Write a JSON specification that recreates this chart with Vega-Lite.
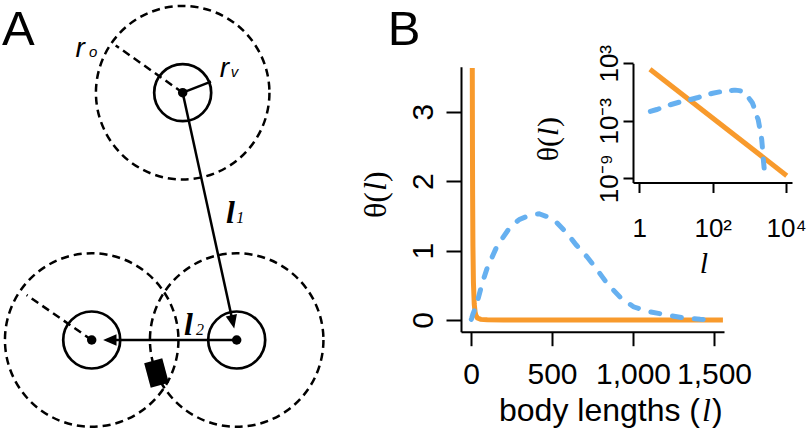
{
  "$schema": "https://vega.github.io/schema/vega-lite/v6.json",
  "width": 810,
  "height": 436,
  "padding": 0,
  "autosize": {"type": "none"},
  "background": "white",
  "config": {
    "view": {"stroke": null},
    "font": "Liberation Sans",
    "axis": {
      "grid": false,
      "domainColor": "black",
      "tickColor": "black",
      "labelColor": "black",
      "domainWidth": 2,
      "tickWidth": 2,
      "labelFont": "Liberation Sans",
      "labelOverlap": false,
      "labelFlush": false,
      "labelBound": false,
      "title": null
    }
  },
  "datasets": {
    "agents": [
      {"agent": "top", "x": 6.285, "y": 11.811},
      {"agent": "left", "x": 3.155, "y": 3.303},
      {"agent": "right", "x": 8.143, "y": 3.303}
    ],
    "dashedSegments": [
      {"seg": "r_o top", "x": 6.285, "y": 11.811, "x2": 3.98, "y2": 13.438},
      {"seg": "r_o left", "x": 3.155, "y": 3.303, "x2": 0.918, "y2": 4.851}
    ],
    "solidSegments": [
      {"seg": "r_v", "x": 6.285, "y": 11.811, "x2": 7.259, "y2": 12.189},
      {"seg": "l1", "x": 6.285, "y": 11.811, "x2": 8.008, "y2": 3.926},
      {"seg": "l2", "x": 8.143, "y": 3.303, "x2": 3.778, "y2": 3.303}
    ],
    "heads": [
      {"arrow": "l1", "x": 8.008, "y": 3.926},
      {"arrow": "l2", "x": 3.778, "y": 3.303}
    ],
    "obstacle": [{"x": 5.384, "y": 2.167}],
    "panelLetters": [
      {"text": "A", "x": 0.633, "y": 13.452},
      {"text": "B", "x": 13.899, "y": 13.452}
    ],
    "radiusLabels": [
      {"text": "r", "x": 2.6, "y": 13.039},
      {"text": "r", "x": 7.56, "y": 12.351}
    ],
    "radiusSubs": [
      {"text": "o", "x": 3.06, "y": 13.039},
      {"text": "v", "x": 7.94, "y": 12.351}
    ],
    "lengthLabels": [
      {"text": "l", "x": 7.775, "y": 7.328},
      {"text": "l", "x": 6.33, "y": 3.475}
    ],
    "lengthSubs": [
      {"text": "1", "x": 8.13, "y": 7.328},
      {"text": "2", "x": 6.74, "y": 3.475}
    ],
    "orange": [
      {"l": 1.95, "theta": 237},
      {"l": 7.93, "theta": 3.63},
      {"l": 9, "theta": 2.49},
      {"l": 10, "theta": 1.815},
      {"l": 12, "theta": 1.054},
      {"l": 15, "theta": 0.542},
      {"l": 20, "theta": 0.23},
      {"l": 25, "theta": 0.118},
      {"l": 30, "theta": 0.0688},
      {"l": 40, "theta": 0.0292},
      {"l": 60, "theta": 0.0087},
      {"l": 100, "theta": 0.0019},
      {"l": 200, "theta": 0.00024},
      {"l": 500, "theta": 0.0000157},
      {"l": 1000, "theta": 0.00000199},
      {"l": 1555, "theta": 0.000000535},
      {"l": 10400, "theta": 0.00000000185}
    ],
    "blue": [
      {"l": 2, "theta": 0.0095},
      {"l": 3, "theta": 0.015},
      {"l": 5, "theta": 0.03},
      {"l": 7, "theta": 0.047},
      {"l": 12, "theta": 0.085},
      {"l": 24, "theta": 0.16},
      {"l": 40, "theta": 0.27},
      {"l": 68, "theta": 0.52},
      {"l": 100, "theta": 0.75},
      {"l": 160, "theta": 1.06},
      {"l": 242, "theta": 1.34},
      {"l": 300, "theta": 1.45},
      {"l": 376, "theta": 1.52},
      {"l": 420, "theta": 1.53},
      {"l": 468, "theta": 1.49},
      {"l": 530, "theta": 1.4},
      {"l": 592, "theta": 1.25},
      {"l": 650, "theta": 1.08},
      {"l": 716, "theta": 0.91},
      {"l": 780, "theta": 0.72},
      {"l": 839, "theta": 0.53},
      {"l": 920, "theta": 0.33},
      {"l": 1003, "theta": 0.19},
      {"l": 1100, "theta": 0.12},
      {"l": 1209, "theta": 0.072},
      {"l": 1300, "theta": 0.035},
      {"l": 1415, "theta": 0.01},
      {"l": 1510, "theta": 0.0045},
      {"l": 1600, "theta": 0.0028},
      {"l": 1740, "theta": 0.0013},
      {"l": 1900, "theta": 0.0002},
      {"l": 2050, "theta": 0.00004},
      {"l": 2163, "theta": 0.000011},
      {"l": 2300, "theta": 0.0000008},
      {"l": 2400, "theta": 0.00000009},
      {"l": 2530, "theta": 0.00000001},
      {"l": 2660, "theta": 0.0000000025}
    ],
    "mainXTitle": [{"l": 1413.6, "theta": -1.4547}],
    "mainYTitle": [{"l": -524.7, "theta": 1.8436}],
    "insetXTitle": [{"l": 57.9, "theta": 1.29e-19}],
    "insetYTitle": [{"l": 0.0061, "theta": 0.0000203}]
  },
  "layer": [
    {
      "encoding": {
        "x": {"field": "x", "type": "quantitative", "scale": {"domain": [0, 15], "range": [0, 436], "nice": false, "zero": false}, "axis": null},
        "y": {"field": "y", "type": "quantitative", "scale": {"domain": [0, 15], "range": [436, 0], "nice": false, "zero": false}, "axis": null}
      },
      "layer": [
        {"data": {"name": "agents"}, "mark": {"type": "point", "shape": "circle", "size": 30102, "filled": false, "color": "black", "strokeWidth": 2.5, "strokeDash": [8, 5], "opacity": 1}},
        {"data": {"name": "agents"}, "mark": {"type": "point", "shape": "circle", "size": 3249, "filled": false, "color": "black", "strokeWidth": 2.7, "opacity": 1}},
        {"data": {"name": "agents"}, "mark": {"type": "point", "shape": "circle", "size": 90, "filled": true, "color": "black", "opacity": 1}},
        {"data": {"name": "dashedSegments"}, "mark": {"type": "rule", "color": "black", "strokeWidth": 2.5, "strokeDash": [8, 5]}, "encoding": {"x2": {"field": "x2"}, "y2": {"field": "y2"}}},
        {"data": {"name": "solidSegments"}, "mark": {"type": "rule", "color": "black", "strokeWidth": 2.5}, "encoding": {"x2": {"field": "x2"}, "y2": {"field": "y2"}}},
        {"data": {"name": "heads"}, "transform": [{"filter": "datum.arrow == 'l1'"}], "mark": {"type": "point", "shape": "M1,0L-1,-0.85L-1,0.85Z", "size": 180, "filled": true, "color": "black", "opacity": 1, "angle": 77.7}},
        {"data": {"name": "heads"}, "transform": [{"filter": "datum.arrow == 'l2'"}], "mark": {"type": "point", "shape": "M1,0L-1,-0.85L-1,0.85Z", "size": 180, "filled": true, "color": "black", "opacity": 1, "angle": 180}},
        {"data": {"name": "obstacle"}, "mark": {"type": "point", "shape": "M-0.74,-1L0.74,-1L0.74,1L-0.74,1Z", "size": 640, "filled": true, "color": "black", "opacity": 1, "angle": -15}},
        {"data": {"name": "panelLetters"}, "mark": {"type": "text", "font": "Liberation Sans", "fontSize": 49, "align": "center", "baseline": "alphabetic", "color": "black"}, "encoding": {"text": {"field": "text", "type": "nominal"}}},
        {"data": {"name": "radiusLabels"}, "mark": {"type": "text", "font": "Liberation Sans", "fontStyle": "italic", "fontSize": 28, "align": "left", "baseline": "alphabetic", "color": "black"}, "encoding": {"text": {"field": "text", "type": "nominal"}}},
        {"data": {"name": "radiusSubs"}, "mark": {"type": "text", "font": "Liberation Sans", "fontStyle": "italic", "fontSize": 15, "align": "left", "baseline": "alphabetic", "color": "black"}, "encoding": {"text": {"field": "text", "type": "nominal"}}},
        {"data": {"name": "lengthLabels"}, "mark": {"type": "text", "font": "Liberation Serif", "fontStyle": "italic", "fontWeight": "bold", "fontSize": 32, "align": "left", "baseline": "alphabetic", "color": "black"}, "encoding": {"text": {"field": "text", "type": "nominal"}}},
        {"data": {"name": "lengthSubs"}, "mark": {"type": "text", "font": "Liberation Serif", "fontStyle": "italic", "fontSize": 16, "align": "left", "baseline": "alphabetic", "color": "black"}, "encoding": {"text": {"field": "text", "type": "nominal"}}}
      ]
    },
    {
      "encoding": {
        "x": {"field": "l", "type": "quantitative", "scale": {"domain": [-61.7, 1561.7], "range": [461, 724], "nice": false, "zero": false},
              "axis": {"orient": "bottom", "offset": -104.3, "values": [0, 500, 1000, 1500], "format": ",.0f", "tickSize": 14, "labelFontSize": 30, "labelPadding": 14}},
        "y": {"field": "theta", "type": "quantitative", "scale": {"domain": [-0.1685, 3.648], "range": [331.7, 66.7], "nice": false, "zero": false},
              "axis": {"orient": "left", "offset": -461, "values": [0, 1, 2, 3], "format": ".0f", "tickSize": 15, "labelFontSize": 30, "labelAngle": 270, "labelAlign": "center", "labelBaseline": "alphabetic", "labelPadding": 14}}
      },
      "layer": [
        {"data": {"name": "orange"}, "transform": [{"filter": "datum.l >= 7.9 && datum.l <= 1560"}], "mark": {"type": "line", "color": "#F89A2C", "strokeWidth": 5}},
        {"data": {"name": "blue"}, "transform": [{"filter": "datum.l <= 1520"}], "mark": {"type": "line", "color": "#66B0F0", "strokeWidth": 5, "strokeDash": [9, 13], "strokeCap": "round"}},
        {"data": {"name": "mainXTitle"}, "mark": {"type": "text", "text": "body lengths (", "font": "Liberation Sans", "fontSize": 32, "align": "right", "baseline": "alphabetic", "color": "black"}},
        {"data": {"name": "mainXTitle"}, "mark": {"type": "text", "text": "l", "font": "Liberation Serif", "fontStyle": "italic", "fontSize": 32, "align": "left", "baseline": "alphabetic", "dx": 2, "color": "black"}},
        {"data": {"name": "mainXTitle"}, "mark": {"type": "text", "text": ")", "font": "Liberation Sans", "fontSize": 32, "align": "left", "baseline": "alphabetic", "dx": 12, "color": "black"}},
        {"data": {"name": "mainYTitle"}, "mark": {"type": "text", "text": "θ(", "font": "Liberation Serif", "fontSize": 32, "angle": 270, "align": "right", "baseline": "alphabetic", "color": "black"}},
        {"data": {"name": "mainYTitle"}, "mark": {"type": "text", "text": "l", "font": "Liberation Serif", "fontStyle": "italic", "fontSize": 32, "angle": 270, "align": "left", "baseline": "alphabetic", "dx": 1, "color": "black"}},
        {"data": {"name": "mainYTitle"}, "mark": {"type": "text", "text": ")", "font": "Liberation Serif", "fontSize": 32, "angle": 270, "align": "left", "baseline": "alphabetic", "dx": 10, "color": "black"}}
      ]
    },
    {
      "encoding": {
        "x": {"field": "l", "type": "quantitative", "scale": {"type": "log", "domain": [0.6733, 14480], "range": [633, 792], "nice": false, "zero": false},
              "axis": {"orient": "bottom", "offset": -253.5, "values": [1, 100, 10000], "labelExpr": "datum.value < 10 ? '1' : datum.value < 1000 ? '10²' : '10⁴'", "tickSize": 10, "labelFontSize": 26, "labelPadding": 23}},
        "y": {"field": "theta", "type": "quantitative", "scale": {"type": "log", "domain": [3.6e-10, 1000], "range": [182.5, 63.3], "nice": false, "zero": false},
              "axis": {"orient": "left", "offset": -633, "values": [1000, 0.001, 1e-9], "labelExpr": "datum.value > 1 ? '10³' : datum.value > 1e-6 ? '10⁻³' : '10⁻⁹'", "tickSize": 10, "labelFontSize": 26, "labelAngle": 270, "labelAlign": "center", "labelBaseline": "alphabetic", "labelPadding": 6}}
      },
      "layer": [
        {"data": {"name": "orange"}, "transform": [{"filter": "datum.l == 1.95 || datum.l == 10400"}], "mark": {"type": "line", "color": "#F89A2C", "strokeWidth": 5}},
        {"data": {"name": "blue"}, "mark": {"type": "line", "color": "#66B0F0", "strokeWidth": 5, "strokeDash": [9, 12], "strokeCap": "round"}},
        {"data": {"name": "insetXTitle"}, "mark": {"type": "text", "text": "l", "font": "Liberation Serif", "fontStyle": "italic", "fontSize": 30, "align": "center", "baseline": "alphabetic", "color": "black"}},
        {"data": {"name": "insetYTitle"}, "mark": {"type": "text", "text": "θ(", "font": "Liberation Serif", "fontSize": 30, "angle": 270, "align": "right", "baseline": "alphabetic", "color": "black"}},
        {"data": {"name": "insetYTitle"}, "mark": {"type": "text", "text": "l", "font": "Liberation Serif", "fontStyle": "italic", "fontSize": 30, "angle": 270, "align": "left", "baseline": "alphabetic", "dx": 1, "color": "black"}},
        {"data": {"name": "insetYTitle"}, "mark": {"type": "text", "text": ")", "font": "Liberation Serif", "fontSize": 30, "angle": 270, "align": "left", "baseline": "alphabetic", "dx": 10, "color": "black"}}
      ]
    }
  ],
  "resolve": {
    "scale": {"x": "independent", "y": "independent"},
    "axis": {"x": "independent", "y": "independent"}
  }
}
